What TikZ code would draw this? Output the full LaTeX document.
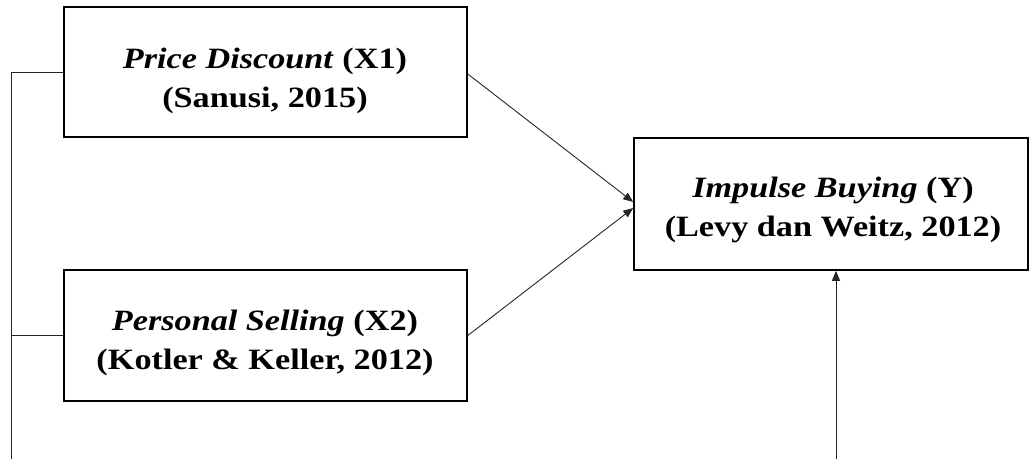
\documentclass[tikz,border=0pt]{standalone}
\usepackage{fontspec}
\setmainfont{Liberation Serif}[FakeStretch=1.16]
\usetikzlibrary{arrows.meta}
\begin{document}
\begin{tikzpicture}[x=1pt,y=-1pt,
  box/.style={draw, line width=1.6pt, inner sep=0pt},
  lbl/.style={align=center, inner sep=0pt,
    font=\fontsize{29.5}{39}\selectfont\bfseries},
  conn/.style={line width=0.9pt, draw=black!85},
  arr/.style={conn, -{Triangle[length=10pt,width=8pt]}}]
\useasboundingbox (0,0) rectangle (1030,459);
\node[box, minimum width=403pt, minimum height=130pt] (b1) at (265.5,72) {};
\node[lbl] (t1) at (265,81)
  {\textit{Price Discount} (X1)\\(Sanusi, 2015)};
\node[box, minimum width=403pt, minimum height=131pt] (b2) at (265.5,335.5) {};
\node[lbl] (t2) at (265,343)
  {\textit{Personal Selling} (X2)\\(Kotler \& Keller, 2012)};
\node[box, minimum width=394pt, minimum height=132pt] (y) at (831,204) {};
\node[lbl] (ty) at (833,210)
  {\textit{Impulse Buying} (Y)\\(Levy dan Weitz, 2012)};
\coordinate (lb) at (11,459);
\coordinate (bb) at (836,459);
\draw[conn] (b1.west) -| (lb);
\draw[conn] (b2.west) -- (b2.west -| lb);
\draw[arr] ([yshift=-2pt]b1.east) -- ([yshift=2pt]y.west);
\draw[arr] (b2.east) -- ([yshift=-4pt]y.west);
\draw[arr] (bb) -- (bb |- y.south);
\end{tikzpicture}
\end{document}
